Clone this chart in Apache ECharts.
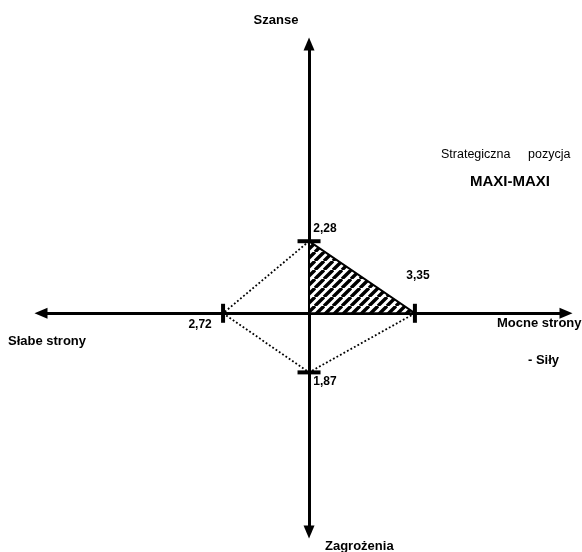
<!DOCTYPE html>
<html>
<head>
<meta charset="utf-8">
<script src="https://cdn.jsdelivr.net/npm/echarts@6/dist/echarts.min.js"></script>
<style>
  html, body { margin: 0; padding: 0; background: #fff; }
  #chart { width: 582px; height: 552px; }
</style>
</head>
<body>
<div id="chart"></div>
<script>
// strategic position values, order: up, right, down, left
const directions = ['Szanse', 'Mocne strony', 'Zagrożenia', 'Słabe strony'];
const values = [2.28, 3.35, 1.87, 2.72];
const valueLabels = ['2,28', '3,35', '1,87', '2,72'];

const up = [0, values[0]];
const right = [values[1], 0];
const down = [0, -values[2]];
const left = [-values[3], 0];

const FONT = '"Liberation Sans", Arial, sans-serif';

// striped fill like the hatched triangle in the original
function makeStripes() {
  const s = 9;
  const c = document.createElement('canvas');
  c.width = s; c.height = s;
  const ctx = c.getContext('2d');
  ctx.fillStyle = '#fff';
  ctx.fillRect(0, 0, s, s);
  ctx.strokeStyle = '#000';
  ctx.lineWidth = 3.4;
  ctx.beginPath();
  for (let k = -s; k <= 3 * s; k += s) {
    ctx.moveTo(k, 0);
    ctx.lineTo(k - s, s);
  }
  ctx.stroke();
  return c;
}
const stripes = makeStripes();

const chart = echarts.init(document.getElementById('chart'), null, { renderer: 'canvas' });

const axisCommon = {
  type: 'value',
  axisLine: {
    onZero: true,
    symbol: ['triangle', 'triangle'],
    symbolSize: [11, 13],
    lineStyle: { color: '#000', width: 3 }
  },
  axisTick: { show: false },
  axisLabel: { show: false },
  splitLine: { show: false }
};

// label offsets from each tick mark
const labelOffsets = [[16, -13], [3, -38], [16, 9], [-23, 11]];
const tickSizes = [[23, 4], [4, 19], [23, 4], [4, 19]];

const option = {
  backgroundColor: '#fff',
  animation: false,
  grid: { left: 41, right: 16, top: 44, bottom: 20 },
  xAxis: Object.assign({}, axisCommon, { min: -8.48, max: 8.13 }),
  yAxis: Object.assign({}, axisCommon, { min: -6.92, max: 8.52 }),
  series: [
    {
      type: 'custom',
      data: [[0, 0]],
      z: 3,
      renderItem: function (params, api) {
        const pts = [[0, 0], up, right].map(p => api.coord(p));
        return {
          type: 'polygon',
          shape: { points: pts },
          style: {
            fill: { image: stripes, repeat: 'repeat' },
            stroke: '#000',
            lineWidth: 2
          }
        };
      }
    },
    {
      type: 'line',
      data: [up, left, down, right],
      symbol: 'none',
      z: 2,
      lineStyle: { color: '#000', width: 1.8, type: [1.8, 2.2] }
    },
    {
      type: 'scatter',
      z: 5,
      data: [up, right, down, left].map((p, i) => ({
        value: p,
        symbol: 'rect',
        symbolSize: tickSizes[i],
        label: {
          show: true,
          position: 'inside',
          offset: labelOffsets[i],
          formatter: valueLabels[i],
          color: '#000',
          textBorderWidth: 0,
          fontSize: 12,
          fontWeight: 'bold',
          fontFamily: FONT
        }
      })),
      itemStyle: { color: '#000', opacity: 1 }
    }
  ],
  graphic: [
    { type: 'text', x: 276, y: 20, style: { text: directions[0], font: 'bold 13px ' + FONT, fill: '#000', align: 'center', verticalAlign: 'middle' } },
    { type: 'text', x: 497, y: 323, style: { text: directions[1], font: 'bold 13px ' + FONT, fill: '#000', align: 'left', verticalAlign: 'middle' } },
    { type: 'text', x: 325, y: 546, style: { text: directions[2], font: 'bold 13px ' + FONT, fill: '#000', align: 'left', verticalAlign: 'middle' } },
    { type: 'text', x: 8, y: 341, style: { text: directions[3], font: 'bold 13px ' + FONT, fill: '#000', align: 'left', verticalAlign: 'middle' } },
    { type: 'text', x: 528, y: 360, style: { text: '- Siły', font: 'bold 13px ' + FONT, fill: '#000', align: 'left', verticalAlign: 'middle' } },
    { type: 'text', x: 441, y: 155, style: { text: 'Strategiczna', font: '12.5px ' + FONT, fill: '#000', align: 'left', verticalAlign: 'middle' } },
    { type: 'text', x: 528, y: 155, style: { text: 'pozycja', font: '12.5px ' + FONT, fill: '#000', align: 'left', verticalAlign: 'middle' } },
    { type: 'text', x: 470, y: 182, style: { text: 'MAXI-MAXI', font: 'bold 15px ' + FONT, fill: '#000', align: 'left', verticalAlign: 'middle' } }
  ]
};

chart.setOption(option);
</script>
</body>
</html>
